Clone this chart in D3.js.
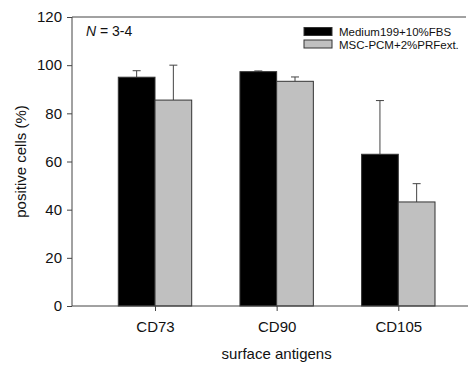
<!DOCTYPE html>
<html>
<head>
<meta charset="utf-8">
<script src="https://cdn.jsdelivr.net/npm/d3@7"></script>
<style>
  body { margin: 0; background: #fff; }
  text { font-family: Arial, "Liberation Sans", sans-serif; fill: #111; }
</style>
</head>
<body>
<div id="chart"></div>
<script>
const width = 469;
const height = 365;
const margin = { top: 17, right: 1, bottom: 59, left: 72 };

const categories = ["CD73", "CD90", "CD105"];
const seriesNames = ["Medium199+10%FBS", "MSC-PCM+2%PRFext."];
const mediumValues = [95.0, 97.3, 63.0];
const mediumErrors = [2.7, 0.3, 22.3];
const pcmValues = [85.5, 93.3, 43.2];
const pcmErrors = [14.5, 1.8, 7.6];
const yTicks = [0, 20, 40, 60, 80, 100, 120];
const colors = ["#000000", "#c0c0c0"];

const svg = d3
  .select("#chart")
  .append("svg")
  .attr("width", width)
  .attr("height", height);

const plotW = width - margin.left - margin.right;
const plotH = height - margin.top - margin.bottom;

const g = svg
  .append("g")
  .attr("transform", `translate(${margin.left},${margin.top})`);

// group centres
const x = d3
  .scalePoint()
  .domain(categories)
  .range([83, 326.3]);

const y = d3.scaleLinear().domain([0, 120]).range([plotH, 0]);

const barW = 36.7;

const rows = categories.map((c, i) => ({
  cat: c,
  vals: [
    { s: 0, v: mediumValues[i], e: mediumErrors[i] },
    { s: 1, v: pcmValues[i], e: pcmErrors[i] },
  ],
}));

// error bars (up only)
rows.forEach((r) => {
  r.vals.forEach((d) => {
    const cx = x(r.cat) + (d.s === 0 ? -barW / 2 : barW / 2);
    g.append("line")
      .attr("x1", cx).attr("x2", cx)
      .attr("y1", y(d.v)).attr("y2", y(d.v + d.e))
      .attr("stroke", "#444").attr("stroke-width", 1);
    g.append("line")
      .attr("x1", cx - 4).attr("x2", cx + 4)
      .attr("y1", y(d.v + d.e)).attr("y2", y(d.v + d.e))
      .attr("stroke", "#444").attr("stroke-width", 1);
  });
});

// bars
rows.forEach((r) => {
  g.selectAll(null)
    .data(r.vals)
    .enter()
    .append("rect")
    .attr("x", (d) => x(r.cat) + (d.s === 0 ? -barW : 0))
    .attr("y", (d) => y(d.v))
    .attr("width", barW)
    .attr("height", (d) => plotH - y(d.v))
    .attr("fill", (d) => colors[d.s])
    .attr("stroke", "#333")
    .attr("stroke-width", 1);
});

// frame top line
g.append("line")
  .attr("x1", 0).attr("x2", plotW - 2)
  .attr("y1", 0).attr("y2", 0)
  .attr("stroke", "#444").attr("stroke-width", 1);

// y axis
const yAxis = g.append("g")
  .call(d3.axisLeft(y).tickValues(yTicks).tickSize(5).tickPadding(5));
yAxis.select(".domain").attr("stroke", "#444").attr("d", `M0,${plotH}V0`);
yAxis.selectAll(".tick line").attr("stroke", "#444");
yAxis.selectAll("text").style("font-size", "15px").attr("fill", "#111");

// x axis
const xAxis = g.append("g")
  .attr("transform", `translate(0,${plotH})`)
  .call(d3.axisBottom(x).tickSize(5).tickPadding(10));
xAxis.select(".domain").attr("stroke", "#444").attr("d", `M0,0H${plotW}`);
xAxis.selectAll(".tick line").attr("stroke", "#444");
xAxis.selectAll("text").style("font-size", "15px").attr("fill", "#111");

// axis titles
svg.append("text")
  .attr("x", margin.left + x("CD90"))
  .attr("y", 359)
  .attr("text-anchor", "middle")
  .style("font-size", "15px")
  .text("surface antigens");

svg.append("text")
  .attr("transform", `translate(26,${margin.top + plotH / 2}) rotate(-90)`)
  .attr("text-anchor", "middle")
  .style("font-size", "15px")
  .text("positive cells (%)");

// N label
const nt = svg.append("text")
  .attr("x", 86)
  .attr("y", 36)
  .style("font-size", "14px");
nt.append("tspan").style("font-style", "italic").text("N");
nt.append("tspan").text(" = 3-4");

// legend
seriesNames.forEach((name, i) => {
  const ly = 27.5 + i * 12.5;
  svg.append("rect")
    .attr("x", 304).attr("y", ly)
    .attr("width", 28).attr("height", 8)
    .attr("fill", colors[i])
    .attr("stroke", "#333");
  svg.append("text")
    .attr("x", 339).attr("y", ly + 8.5)
    .style("font-size", "11.5px")
    .text(name);
});
</script>
</body>
</html>
